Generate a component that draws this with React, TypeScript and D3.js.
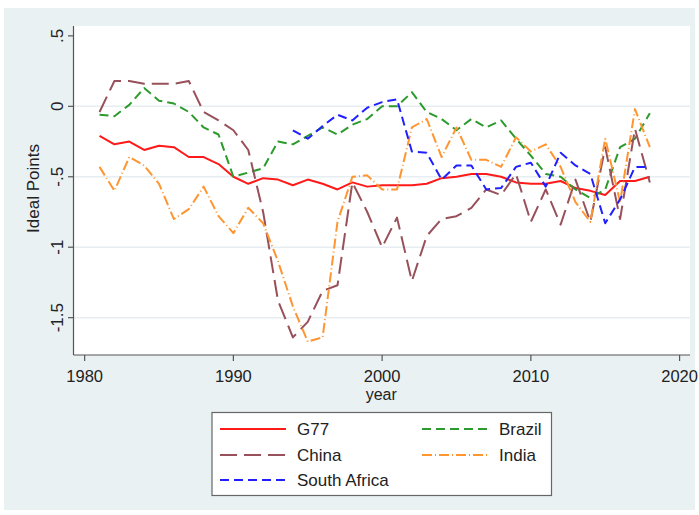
import React from 'react';
import * as d3 from 'd3';

const years = [
  1981, 1982, 1983, 1984, 1985, 1986, 1987, 1988, 1989, 1990,
  1991, 1992, 1993, 1994, 1995, 1996, 1997, 1998, 1999, 2000,
  2001, 2002, 2003, 2004, 2005, 2006, 2007, 2008, 2009, 2010,
  2011, 2012, 2013, 2014, 2015, 2016, 2017, 2018,
];

const g77 = [
  -0.21, -0.27, -0.25, -0.31, -0.28, -0.29, -0.36, -0.36, -0.41, -0.5,
  -0.55, -0.51, -0.52, -0.56, -0.52, -0.55, -0.59, -0.54, -0.57, -0.56,
  -0.56, -0.56, -0.55, -0.51, -0.5, -0.48, -0.48, -0.5, -0.54, -0.55,
  -0.55, -0.53, -0.58, -0.6, -0.63, -0.53, -0.53, -0.5,
];

const brazil = [
  -0.06, -0.07, 0.01, 0.13, 0.04, 0.02, -0.04, -0.15, -0.2, -0.5,
  -0.47, -0.44, -0.25, -0.27, -0.21, -0.15, -0.2, -0.13, -0.09, 0.0,
  0.0, 0.1, -0.04, -0.09, -0.17, -0.09, -0.15, -0.1, -0.23, -0.35,
  -0.48, -0.5, -0.59, -0.65, -0.59, -0.29, -0.23, -0.05,
];

const china = [
  -0.04, 0.18, 0.18, 0.16, 0.16, 0.16, 0.18, -0.04, -0.1, -0.17,
  -0.31, -0.75, -1.38, -1.64, -1.53, -1.31, -1.27, -0.54, -0.75, -1.0,
  -0.79, -1.24, -0.92, -0.8, -0.78, -0.72, -0.59, -0.63, -0.48, -0.82,
  -0.59, -0.84, -0.52, -0.82, -0.29, -0.8, -0.16, -0.54,
];

const india = [
  -0.43, -0.6, -0.36, -0.42, -0.55, -0.8, -0.73, -0.57, -0.78, -0.9,
  -0.72, -0.83, -1.1, -1.42, -1.67, -1.64, -0.82, -0.5, -0.49, -0.59,
  -0.59, -0.15, -0.09, -0.36, -0.15, -0.38, -0.38, -0.43, -0.22, -0.32,
  -0.27, -0.43, -0.68, -0.82, -0.23, -0.68, -0.02, -0.29,
];

const southAfrica = [
  null, null, null, null, null, null, null, null, null, null,
  null, null, null, -0.17, -0.23, -0.14, -0.06, -0.1, -0.01, 0.03,
  0.05, -0.32, -0.33, -0.52, -0.42, -0.42, -0.59, -0.58, -0.43, -0.4,
  -0.57, -0.33, -0.42, -0.48, -0.83, -0.66, -0.43, -0.43,
];

const xTicks = [1980, 1990, 2000, 2010, 2020];
const yTicks = [0.5, 0, -0.5, -1, -1.5];
const yTickLabels = ['.5', '0', '-.5', '-1', '-1.5'];

const series = [
  { name: 'G77', values: g77, color: '#ff1a1a', dash: null },
  { name: 'Brazil', values: brazil, color: '#2c9a2c', dash: '9,5' },
  { name: 'China', values: china, color: '#98505a', dash: '17,7' },
  { name: 'India', values: india, color: '#ff9530', dash: '10,3,1,3' },
  { name: 'South Africa', values: southAfrica, color: '#1f1fff', dash: '9,5' },
];

// legend order follows the two-column layout
const legendOrder = ['G77', 'Brazil', 'China', 'India', 'South Africa'];

const W = 699;
const H = 515;
const plot = { left: 73.5, right: 690, top: 26, bottom: 355 };
const font = 'Arial, "Liberation Sans", Helvetica, sans-serif';

export default function App() {
  const x = d3.scaleLinear().domain([1979.25, 2020.7]).range([plot.left, plot.right]);
  const y = d3.scaleLinear().domain([-1.765, 0.57]).range([plot.bottom, plot.top]);

  const line = d3
    .line<number | null>()
    .defined((d) => d != null)
    .x((_, i) => x(years[i]))
    .y((d) => y(d as number));

  const legendX = [220, 422];
  const legendRows = [429, 455, 480];

  return (
    <svg
      width={W}
      height={H}
      style={{ position: 'absolute', left: 0, top: 0, background: '#fff' }}
      fontFamily={font}
    >
      <rect x={4} y={8} width={691} height={502} fill="#eaf1f3" />
      <rect
        x={plot.left}
        y={plot.top}
        width={plot.right - plot.left}
        height={plot.bottom - plot.top}
        fill="#fff"
      />

      {/* grid */}
      {yTicks
        .filter((t) => t !== 0.5)
        .map((t) => (
          <line
            key={`g${t}`}
            x1={plot.left}
            x2={plot.right}
            y1={y(t)}
            y2={y(t)}
            stroke="#e6eef1"
            strokeWidth={1.5}
          />
        ))}

      {/* lines */}
      {series.map((s) => (
        <path
          key={s.name}
          d={line(s.values) ?? ''}
          fill="none"
          stroke={s.color}
          strokeWidth={2}
          strokeDasharray={s.dash ?? undefined}
          strokeLinejoin="round"
        />
      ))}

      {/* y axis */}
      <line x1={plot.left} x2={plot.left} y1={plot.top} y2={plot.bottom} stroke="#555" strokeWidth={1.2} />
      {yTicks.map((t, i) => (
        <g key={`y${t}`} transform={`translate(${plot.left},${y(t)})`}>
          <line x1={-5.5} x2={0} stroke="#555" strokeWidth={1.2} />
          <text
            transform="translate(-11,0) rotate(-90)"
            textAnchor="middle"
            fontSize={17}
            fill="#222"
          >
            {yTickLabels[i]}
          </text>
        </g>
      ))}
      <text
        transform={`translate(39,${(plot.top + plot.bottom) / 2 - 2}) rotate(-90)`}
        textAnchor="middle"
        fontSize={17}
        fill="#222"
      >
        Ideal Points
      </text>

      {/* x axis */}
      <line x1={plot.left} x2={plot.right} y1={plot.bottom} y2={plot.bottom} stroke="#555" strokeWidth={1.2} />
      {xTicks.map((t) => (
        <g key={`x${t}`} transform={`translate(${x(t)},${plot.bottom})`}>
          <line y1={0} y2={6} stroke="#555" strokeWidth={1.2} />
          <text y={26.5} textAnchor="middle" fontSize={16.5} fill="#222">
            {t}
          </text>
        </g>
      ))}
      <text x={(plot.left + plot.right) / 2 - 0.5} y={400} textAnchor="middle" fontSize={16} fill="#222">
        year
      </text>

      {/* legend */}
      <rect x={212} y={412.5} width={339.5} height={83} fill="#fff" stroke="#666" strokeWidth={1.2} />
      {legendOrder.map((name, i) => {
        const s = series.find((d) => d.name === name)!;
        const col = i % 2;
        const row = Math.floor(i / 2);
        const lx = legendX[col];
        const ly = legendRows[row];
        return (
          <g key={`l${name}`}>
            <line
              x1={lx}
              x2={lx + 66}
              y1={ly}
              y2={ly}
              stroke={s.color}
              strokeWidth={2}
              strokeDasharray={s.dash ?? undefined}
            />
            <text x={lx + 77} y={ly + 6} fontSize={17} fill="#222">
              {name}
            </text>
          </g>
        );
      })}
    </svg>
  );
}
